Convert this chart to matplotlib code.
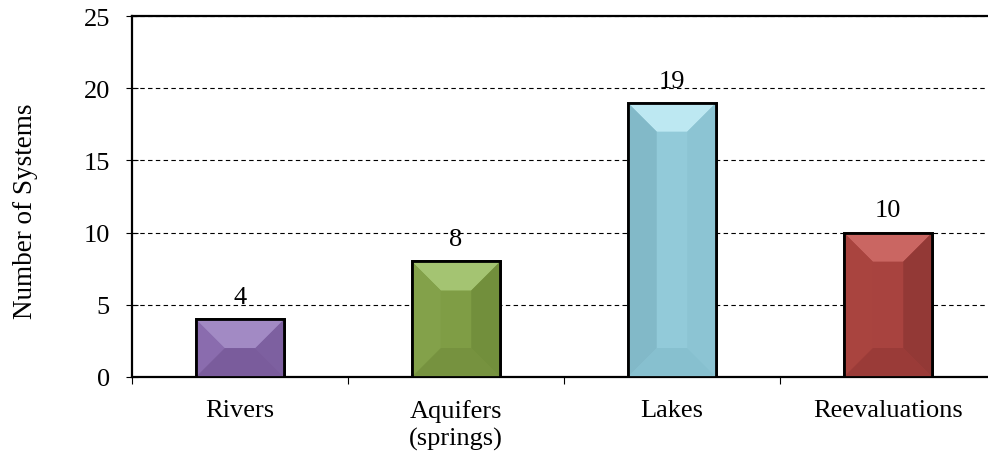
import numpy as np
import matplotlib.pyplot as plt
from matplotlib.patches import Polygon

categories = ['Rivers', 'Aquifers\n(springs)', 'Lakes', 'Reevaluations']
counts = [4, 8, 19, 10]
# base, top bevel, bottom bevel, left side, right side
palette = [
    ['#8768ab', '#a28ac4', '#7a5c9c', '#8a6cae', '#7d60a0'],
    ['#7f9d45', '#a4c472', '#76923f', '#83a14a', '#728f3c'],
    ['#92cad9', '#bde8f2', '#87c0cf', '#82b9c8', '#8cc4d3'],
    ['#a8433f', '#ca6662', '#9a3b38', '#a9443f', '#933936'],
]
yticks = [0, 5, 10, 15, 20, 25]

plt.rcParams['font.family'] = ['Liberation Serif', 'DejaVu Serif']
plt.rcParams['font.size'] = 19

fig = plt.figure(figsize=(9.88, 4.56), dpi=100)
ax = fig.add_axes([132 / 988, 78 / 456, 864 / 988, 361 / 456])

x = np.arange(len(categories))
width = 0.41
bars = ax.bar(x, counts, width=width, color=[p[0] for p in palette],
              edgecolor='black', linewidth=2, zorder=3)

ax.set_xlim(-0.5, len(categories) - 0.5)
ax.set_ylim(0, 25)
ax.set_yticks(yticks)
ax.set_xticks(x)
ax.set_xticklabels(categories, linespacing=1.27)
ax.set_xticks(np.arange(-0.5, len(categories) - 0.5, 1.0), minor=True)

ax.yaxis.grid(True, linestyle=(0, (4, 3)), color='black', linewidth=0.8, zorder=0)
ax.set_axisbelow(True)

for side in ['left', 'top', 'bottom']:
    ax.spines[side].set_linewidth(1.6)
ax.spines['right'].set_visible(False)

ax.tick_params(axis='y', direction='inout', length=8, width=0.8, pad=12)
ax.tick_params(axis='x', which='major', length=0, pad=16)
ax.tick_params(axis='x', which='minor', direction='out', length=5, width=0.8)

ax.set_ylabel('Number of Systems', fontsize=19.5)
ax.yaxis.set_label_coords(-0.109, 0.461)

# bevelled faces drawn inside each bar
fig.canvas.draw()
to_data = ax.transData.inverted()
for bar, cols in zip(bars, palette):
    x0, y0 = ax.transData.transform((bar.get_x(), 0))
    x1, y1 = ax.transData.transform((bar.get_x() + bar.get_width(), bar.get_height()))
    d = min(29, (y1 - y0) / 2, (x1 - x0) / 2)
    ox0, ox1 = x0 + d, x1 - d
    iy0, iy1 = y0 + d, y1 - d
    faces = [
        ([(x0, y1), (x1, y1), (ox1, iy1), (ox0, iy1)], cols[1]),
        ([(x0, y0), (x1, y0), (ox1, iy0), (ox0, iy0)], cols[2]),
        ([(x0, y0), (ox0, iy0), (ox0, iy1), (x0, y1)], cols[3]),
        ([(x1, y0), (ox1, iy0), (ox1, iy1), (x1, y1)], cols[4]),
    ]
    for pts, c in faces:
        ax.add_patch(Polygon(to_data.transform(pts), closed=True, facecolor=c,
                             edgecolor='none', zorder=3.5))
    ax.add_patch(Polygon(to_data.transform([(x0, y0), (x1, y0), (x1, y1), (x0, y1)]),
                         closed=True, facecolor='none', edgecolor='black',
                         linewidth=2, zorder=4))

for xi, v in zip(x, counts):
    ax.annotate(str(v), (xi, v), xytext=(0, 8), textcoords='offset points',
                ha='center', va='bottom')

fig.savefig('out.png', dpi=100)
